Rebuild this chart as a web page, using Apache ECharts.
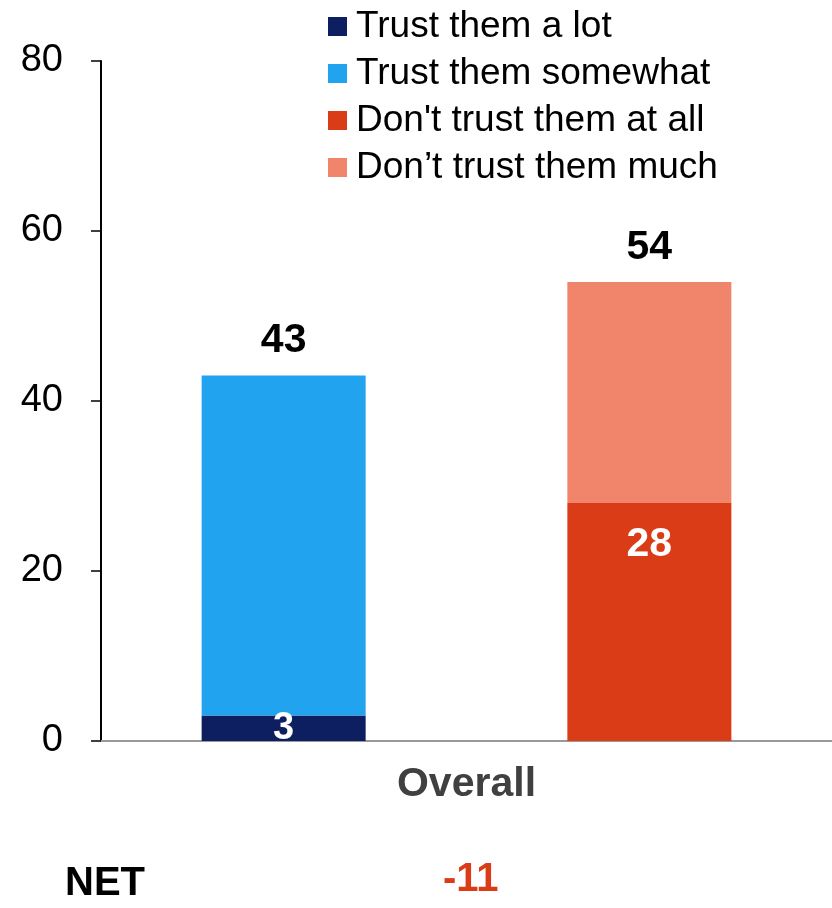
<!DOCTYPE html>
<html>
<head>
<meta charset="utf-8">
<title>Trust</title>
<script src="https://cdn.jsdelivr.net/npm/echarts@6/dist/echarts.min.js"></script>
<style>
  html, body { margin: 0; padding: 0; background: #fff; }
  #chart { width: 832px; height: 908px; }
</style>
</head>
<body>
<div id="chart"></div>
<script>
// Survey categories and answer shares (%)
const categories = ['Overall'];
const trustALot = [3];
const trustSomewhat = [40];
const distrustAtAll = [28];
const distrustMuch = [26];
const yTicks = [0, 20, 40, 60, 80];

const seriesNames = [
  'Trust them a lot',
  'Trust them somewhat',
  "Don't trust them at all",
  'Don\u2019t trust them much'
];
const colors = ['#0E1F61', '#22A3F0', '#D93C16', '#F0856B'];

const FONT = '"Liberation Sans", Arial, Helvetica, sans-serif';

const trustTotal = trustALot.map((v, i) => v + trustSomewhat[i]);
const distrustTotal = distrustAtAll.map((v, i) => v + distrustMuch[i]);
const net = trustTotal.map((v, i) => v - distrustTotal[i]);

const chart = echarts.init(document.getElementById('chart'), null, { renderer: 'canvas' });

const totalLabel = (totals) => ({
  show: true,
  position: 'top',
  distance: 14,
  color: '#000',
  fontFamily: FONT,
  fontWeight: 'bold',
  fontSize: 41,
  formatter: (p) => String(totals[p.dataIndex])
});

chart.setOption({
  animation: false,
  backgroundColor: '#fff',
  textStyle: { fontFamily: FONT },
  legend: {
    orient: 'vertical',
    left: 323,
    top: 3,
    itemWidth: 19,
    itemHeight: 19,
    itemGap: 10,
    icon: 'rect',
    data: seriesNames,
    textStyle: { fontFamily: FONT, fontSize: 37, color: '#000', padding: [0, 0, 0, 4] }
  },
  grid: { left: 101, width: 735, top: 61, bottom: 167, containLabel: false },
  xAxis: {
    type: 'category',
    data: categories,
    axisLine: { lineStyle: { color: '#999', width: 2 } },
    axisTick: { show: false },
    axisLabel: {
      margin: 23,
      color: '#404040',
      fontFamily: FONT,
      fontWeight: 'bold',
      fontSize: 41
    }
  },
  yAxis: {
    type: 'value',
    min: yTicks[0],
    max: yTicks[yTicks.length - 1],
    interval: yTicks[1] - yTicks[0],
    splitLine: { show: false },
    axisLine: { show: true, lineStyle: { color: '#000', width: 2 } },
    axisTick: { show: true, inside: false, length: 10, lineStyle: { color: '#000', width: 1.5 } },
    axisLabel: { margin: 38, color: '#000', fontFamily: FONT, fontSize: 38 }
  },
  series: [
    {
      name: seriesNames[0],
      type: 'bar',
      stack: 'trust',
      data: trustALot,
      barWidth: 164,
      barGap: '123%',
      itemStyle: { color: colors[0] },
      label: {
        show: true,
        position: 'inside',
        color: '#fff',
        fontFamily: FONT,
        fontWeight: 'bold',
        fontSize: 38
      }
    },
    {
      name: seriesNames[1],
      type: 'bar',
      stack: 'trust',
      data: trustSomewhat,
      barWidth: 164,
      barGap: '123%',
      itemStyle: { color: colors[1] },
      label: totalLabel(trustTotal)
    },
    {
      name: seriesNames[2],
      type: 'bar',
      stack: 'distrust',
      data: distrustAtAll,
      barWidth: 164,
      barGap: '123%',
      itemStyle: { color: colors[2] },
      label: {
        show: true,
        position: 'insideTop',
        distance: 21,
        color: '#fff',
        fontFamily: FONT,
        fontWeight: 'bold',
        fontSize: 41
      }
    },
    {
      name: seriesNames[3],
      type: 'bar',
      stack: 'distrust',
      data: distrustMuch,
      barWidth: 164,
      barGap: '123%',
      itemStyle: { color: colors[3] },
      label: totalLabel(distrustTotal)
    }
  ],
  graphic: [
    {
      type: 'text',
      left: 65,
      top: 864,
      style: {
        text: 'NET',
        fill: '#000',
        font: 'bold 40px ' + FONT
      }
    },
    {
      type: 'text',
      left: 443,
      top: 860,
      style: {
        text: String(net[0]),
        fill: colors[2],
        font: 'bold 40px ' + FONT
      }
    }
  ]
});
</script>
</body>
</html>
